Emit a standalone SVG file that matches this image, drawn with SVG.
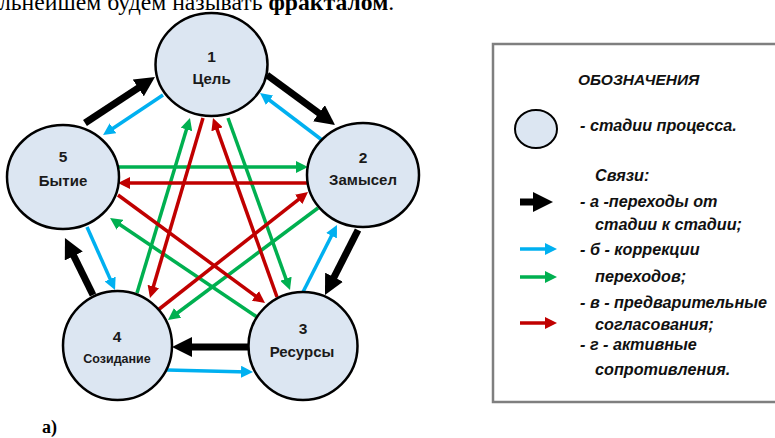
<svg xmlns="http://www.w3.org/2000/svg" width="775" height="438" viewBox="0 0 775 438">
<style>
.node{fill:#dce6f2;stroke:#000;stroke-width:2.5}
.num{font-family:"Liberation Sans",Arial,sans-serif;font-weight:bold;font-size:15.5px;fill:#1a1a1a;text-anchor:middle}
.lbl{font-family:"Liberation Sans",Arial,sans-serif;font-weight:bold;font-size:15px;fill:#1a1a1a;text-anchor:middle}
.blk{stroke:#000;stroke-width:7;fill:none;marker-end:url(#hb)}
.blu{stroke:#00b0f0;stroke-width:3.5;fill:none;marker-end:url(#hu)}
.grn{stroke:#00b050;stroke-width:3.5;fill:none;marker-end:url(#hg)}
.red{stroke:#c00000;stroke-width:3.5;fill:none;marker-end:url(#hr)}
.leg{font-family:"Liberation Sans",Arial,sans-serif;font-style:italic;font-weight:bold;font-size:16.2px;fill:#111}
.top{font-family:"Liberation Serif","Times New Roman",serif;font-size:23.7px;fill:#000}
</style>
<defs>
<marker id="hb" markerUnits="userSpaceOnUse" viewBox="0 0 20 20" markerWidth="20" markerHeight="20" refX="12" refY="10" orient="auto"><path d="M0,0 L20,10 L0,20 z" fill="#000"/></marker>
<marker id="hu" markerUnits="userSpaceOnUse" viewBox="0 0 12 12" markerWidth="12" markerHeight="12" refX="7" refY="6" orient="auto"><path d="M0,0 L12,6 L0,12 z" fill="#00b0f0"/></marker>
<marker id="hg" markerUnits="userSpaceOnUse" viewBox="0 0 12 12" markerWidth="12" markerHeight="12" refX="7" refY="6" orient="auto"><path d="M0,0 L12,6 L0,12 z" fill="#00b050"/></marker>
<marker id="hr" markerUnits="userSpaceOnUse" viewBox="0 0 12 12" markerWidth="12" markerHeight="12" refX="7" refY="6" orient="auto"><path d="M0,0 L12,6 L0,12 z" fill="#c00000"/></marker>
</defs>
<rect width="775" height="438" fill="#fff"/>
<text class="top" x="-1" y="10">льнейшем будем называть <tspan font-weight="bold">фракталом</tspan>.</text>

<g id="connectors">
<line class="blk" x1="85" y1="123" x2="148.3" y2="81.4"/>
<line class="blk" x1="267" y1="75" x2="328.6" y2="120.3"/>
<line class="blk" x1="358" y1="230" x2="328.6" y2="287.9"/>
<line class="blk" x1="249" y1="347" x2="180" y2="347"/>
<line class="blk" x1="93" y1="295" x2="68.5" y2="245.2"/>

<line class="blu" x1="163" y1="95" x2="107.2" y2="132.2"/>
<line class="blu" x1="322" y1="140" x2="264" y2="96"/>
<line class="blu" x1="87" y1="227" x2="113" y2="285.4"/>
<line class="blu" x1="167" y1="370" x2="248" y2="371.9"/>
<line class="blu" x1="303" y1="292" x2="334.7" y2="229.5"/>

<line class="grn" x1="118" y1="167" x2="303" y2="167"/>
<line class="grn" x1="137" y1="293" x2="188.5" y2="122.8"/>
<line class="grn" x1="228" y1="118" x2="288.3" y2="285.3"/>
<line class="grn" x1="318" y1="208" x2="172" y2="317"/>
<line class="grn" x1="257" y1="317" x2="114.2" y2="220.8"/>

<line class="red" x1="308" y1="183" x2="123" y2="183"/>
<line class="red" x1="203" y1="118" x2="151.4" y2="293.2"/>
<line class="red" x1="277" y1="297" x2="214.7" y2="122.7"/>
<line class="red" x1="158" y1="310" x2="304.1" y2="195.1"/>
<line class="red" x1="118" y1="195" x2="261" y2="300"/>
</g>

<g id="node1">
<ellipse class="node" cx="211.5" cy="64.5" rx="56" ry="51.5"/>
<text class="num" x="211.5" y="62">1</text>
<text class="lbl" x="211.5" y="84">Цель</text>
</g>
<g id="node2">
<ellipse class="node" cx="363" cy="175" rx="56" ry="52"/>
<text class="num" x="363" y="163">2</text>
<text class="lbl" x="363" y="185">Замысел</text>
</g>
<g id="node3">
<ellipse class="node" cx="303" cy="346" rx="54.5" ry="54"/>
<text class="num" x="303" y="334">3</text>
<text class="lbl" x="302" y="357">Ресурсы</text>
</g>
<g id="node4">
<ellipse class="node" cx="117.5" cy="345.5" rx="54.5" ry="54.5"/>
<text class="num" x="117" y="342">4</text>
<text class="lbl" x="117" y="363" style="font-size:12.5px">Созидание</text>
</g>
<g id="node5">
<ellipse class="node" cx="63" cy="177" rx="56" ry="52"/>
<text class="num" x="63" y="162">5</text>
<text class="lbl" x="63" y="186">Бытие</text>
</g>

<text x="42" y="433" font-family="'Liberation Serif','Times New Roman',serif" font-weight="bold" font-size="18">а)</text>

<g id="legend">
<rect x="493" y="44" width="300" height="358" fill="#fff" stroke="#7f7f7f" stroke-width="2.5"/>
<text class="leg" x="578" y="85" style="font-size:15.5px">ОБОЗНАЧЕНИЯ</text>
<ellipse cx="536" cy="129" rx="21" ry="19" fill="#dce6f2" stroke="#000" stroke-width="2"/>
<text class="leg" x="580" y="131">- стадии процесса.</text>
<text class="leg" x="595" y="181">Связи:</text>
<line class="blk" x1="520" y1="202" x2="545" y2="202"/>
<text class="leg" x="580" y="207">- а -переходы от</text>
<text class="leg" x="595" y="230">стадии к стадии;</text>
<line class="blu" x1="520" y1="249" x2="552" y2="249"/>
<text class="leg" x="580" y="255">- б - коррекции</text>
<line class="grn" x1="520" y1="277" x2="552" y2="277"/>
<text class="leg" x="595" y="282">переходов;</text>
<text class="leg" x="580" y="308">- в - предварительные</text>
<line class="red" x1="520" y1="323" x2="552" y2="323"/>
<text class="leg" x="595" y="330">согласования;</text>
<text class="leg" x="580" y="350">- г - активные</text>
<text class="leg" x="595" y="375">сопротивления.</text>
</g>
</svg>
